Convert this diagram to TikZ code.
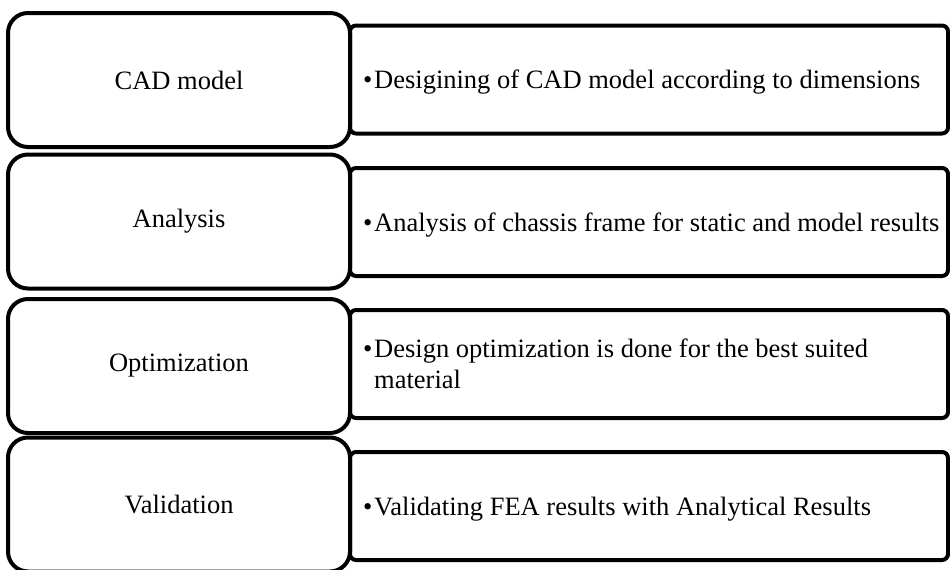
\documentclass[tikz,border=0pt]{standalone}
\usepackage{fontspec}
\setmainfont{Liberation Serif}
\usetikzlibrary{positioning}

\newcommand{\bul}{\makebox[11pt][l]{\textbullet}}

\begin{document}
\begin{tikzpicture}[x=1pt,y=-1pt,
        stagebox/.style={draw,line width=4pt,rounded corners=20pt,fill=white,
            minimum width=342pt,minimum height=134pt,inner sep=0pt,
            font=\fontsize{26.5}{31}\selectfont},
        descbox/.style={draw,line width=4pt,rounded corners=6pt,
            minimum width=598pt,minimum height=108pt,inner sep=0pt},
        desctext/.style={anchor=west,align=left,inner sep=0pt,
            font=\fontsize{26.5}{31}\selectfont},
        oneline/.style={yshift=-3pt}]
        \useasboundingbox (0,0) rectangle (950,570);
        % description boxes first, the stage boxes cover their left ends
        \node[descbox] at (649,79.5) (cadd) {};
        \node[descbox] at (649,222) (anad) {};
        \node[descbox] at (649,364) (optd) {};
        \node[descbox] at (649,506) (vald) {};
        \node[stagebox] at (179,80) (cad) {CAD model};
        \node[stagebox] at (179,221.5) (ana) {Analysis};
        \node[stagebox] at (179,366) (opt) {Optimization};
        \node[stagebox] at (179,504.5) (val) {Validation};
        \node[desctext,oneline] at ([xshift=11pt]cad.east |- cadd.west) (cadt)
            {\bul Desigining of CAD model according to dimensions};
        \node[desctext,oneline] at ([xshift=11pt]ana.east |- anad.west) (anat)
            {\bul Analysis of chassis frame for static and model results};
        \node[desctext] at ([xshift=11pt]opt.east |- optd.west) (optt)
            {\bul Design optimization is done for the best suited\\\hspace*{11pt}material};
        \node[desctext,oneline] at ([xshift=11pt]val.east |- vald.west) (valt)
            {\bul Validating FEA results with Analytical Results};
    \end{tikzpicture}
\end{document}
